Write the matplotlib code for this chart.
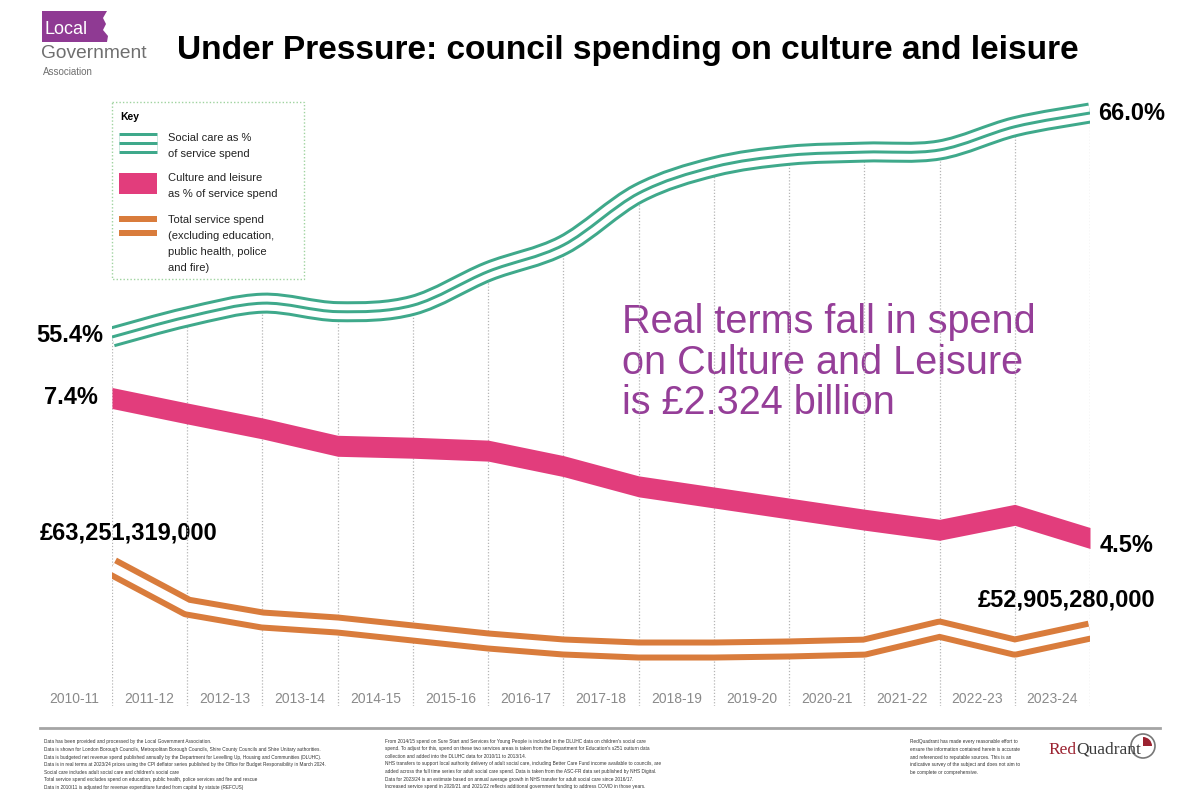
import numpy as np
import matplotlib.pyplot as plt
from matplotlib.patches import Rectangle, Circle, Wedge, Polygon, PathPatch
from matplotlib.path import Path

# Data
years = ["2010-11", "2011-12", "2012-13", "2013-14", "2014-15", "2015-16", "2016-17",
         "2017-18", "2018-19", "2019-20", "2020-21", "2021-22", "2022-23", "2023-24"]
social_care_pct = [55.4, 56.35, 57.0, 56.6, 56.9, 58.5, 59.75, 62.2, 63.45, 64.0, 64.15, 64.25, 65.35, 66.0]
culture_pct = [7.4, 7.08, 6.77, 6.41, 6.37, 6.31, 5.99, 5.57, 5.34, 5.11, 4.88, 4.67, 4.98, 4.5]
total_spend_bn = [63.251319, 56.78, 54.68, 53.87, 52.58, 51.29, 50.32, 49.83, 49.83, 50.0, 50.3,
                  53.2, 50.3, 52.90528]

headline = ["Real terms fall in spend", "on Culture and Leisure", "is £2.324 billion"]

foot_left = [
    "Data has been provided and processed by the Local Government Association.",
    "Data is shown for London Borough Councils, Metropolitan Borough Councils, Shire County Councils and Shire Unitary authorities.",
    "Data is budgeted net revenue spend published annually by the Department for Levelling Up, Housing and Communities (DLUHC).",
    "Data is in real terms at 2023/24 prices using the CPI deflator series published by the Office for Budget Responsibility in March 2024.",
    "Social care includes adult social care and children's social care",
    "Total service spend excludes spend on education, public health, police services and fire and rescue",
    "Data in 2010/11 is adjusted for revenue expenditure funded from capital by statute (REFCUS)",
]
foot_mid = [
    "From 2014/15 spend on Sure Start and Services for Young People is included in the DLUHC data on children's social care",
    "spend. To adjust for this, spend on these two services areas is taken from the Department for Education's s251 outturn data",
    "collection and added into the DLUHC data for 2010/11 to 2013/14.",
    "NHS transfers to support local authority delivery of adult social care, including Better Care Fund income available to councils, are",
    "added across the full time series for adult social care spend. Data is taken from the ASC-FR data set published by NHS Digital.",
    "Data for 2023/24 is an estimate based on annual average growth in NHS transfer for adult social care since 2016/17.",
    "Increased service spend in 2020/21 and 2021/22 reflects additional government funding to address COVID in those years.",
]
foot_right = [
    "RedQuadrant has made every reasonable effort to",
    "ensure the information contained herein is accurate",
    "and referenced to reputable sources. This is an",
    "indicative survey of the subject and does not aim to",
    "be complete or comprehensive.",
]

GREEN = "#3fa98b"
PINK = "#e23d7c"
ORANGE = "#d97c3c"
PURPLE = "#953e98"
GREY = "#8a8a8a"
PX = 0.72  # points per pixel at dpi 100

plt.rcParams['font.family'] = ['Liberation Sans', 'DejaVu Sans']

W, H = 1200, 800
fig = plt.figure(figsize=(12, 8), dpi=100)

# overlay in pixel coordinates for decorations
ov = fig.add_axes([0, 0, 1, 1])
ov.set_xlim(0, W)
ov.set_ylim(H, 0)
ov.axis('off')

# data axes share one box: x 112..1090 px, y 90..706 px
TOP, BOT = 90, 706
pos = [112 / W, 1 - BOT / H, 978 / W, (BOT - TOP) / H]


def ylims(p1, v1, p2, v2):
    k = (v1 - v2) / (p2 - p1)
    return v1 - (BOT - p1) * k, v1 + (p1 - TOP) * k


def data_axes(lims):
    a = fig.add_axes(pos)
    a.set_xlim(0, len(years) - 1)
    a.set_ylim(*lims)
    a.axis('off')
    a.patch.set_alpha(0)
    return a


def smooth_path(xs, ys):
    # Catmull-Rom curve through the points, as cubic Bezier segments
    pts = np.column_stack([xs, ys]).astype(float)
    ext = np.vstack([pts[0], pts, pts[-1]])
    verts, codes = [pts[0]], [Path.MOVETO]
    for i in range(len(pts) - 1):
        p0, p1, p2, p3 = ext[i], ext[i + 1], ext[i + 2], ext[i + 3]
        verts += [p1 + (p2 - p0) / 6, p2 - (p3 - p1) / 6, p2]
        codes += [Path.CURVE4] * 3
    return Path(verts, codes)


def stroke(ax, path, color, lw_px, z):
    ax.add_patch(PathPatch(path, fill=False, ec=color, lw=lw_px * PX, capstyle='butt',
                           joinstyle='round', zorder=z))


x = np.arange(len(years))
ax_s = data_axes(ylims(337, 55.4, 113, 66.0))
ax_c = data_axes(ylims(398, 7.4, 538, 4.5))
ax_t = data_axes(ylims(567, 63.251319, 631, 52.90528))

# vertical dotted guides from social care line down to the axis
ybot = ax_s.get_ylim()[0]
ax_s.vlines(x, ybot, social_care_pct, colors="#b5b5b5", linestyles=(0, (1, 1.5)), lw=0.9, zorder=1)

# social care: three parallel lines
sp = smooth_path(x, social_care_pct)
stroke(ax_s, sp, GREEN, 21, 3)
stroke(ax_s, sp, "white", 15, 4)
stroke(ax_s, sp, GREEN, 3, 5)

# culture and leisure band (constant vertical thickness)
c_lo, c_hi = ax_c.get_ylim()
half = 10.5 * (c_hi - c_lo) / (BOT - TOP)
cp = np.array(culture_pct)
ax_c.fill_between(x, cp - half, cp + half, color=PINK, lw=0)

# total service spend: two parallel lines
kw = dict(solid_joinstyle='round', solid_capstyle='butt')
ax_t.plot(x, total_spend_bn, color=ORANGE, lw=21 * PX, zorder=3, **kw)
ax_t.plot(x, total_spend_bn, color="white", lw=9 * PX, zorder=4, **kw)

# x labels between guides
ylab = ax_s.transData.inverted().transform((0, H - 699))[1]
for i, lab in enumerate(years):
    ax_s.text(i - 0.5, ylab, lab, ha='center', va='center', fontsize=10, color=GREY, clip_on=False)

# value labels
vl = dict(fontsize=17, fontweight='bold', color='black', va='center')
ov.text(103, 335, f"{social_care_pct[0]:.1f}%", ha='right', **vl)
ov.text(98, 397, f"{culture_pct[0]:.1f}%", ha='right', **vl)
ov.text(40, 533, f"£{total_spend_bn[0] * 1e9:,.0f}", ha='left', **vl)
ov.text(1098, 114, f"{social_care_pct[-1]:.1f}%", ha='left', **vl)
ov.text(1100, 545, f"{culture_pct[-1]:.1f}%", ha='left', **vl)
ov.text(1155, 600, f"£{total_spend_bn[-1] * 1e9:,.0f}", ha='right', **vl)

# headline
for j, line in enumerate(headline):
    ov.text(622, 322 + j * 40.5, line, fontsize=28.5, color=PURPLE, ha='left', va='center')

# title
ov.text(628, 50, "Under Pressure: council spending on culture and leisure", fontsize=24.1,
        fontweight='bold', ha='center', va='center', color='black')

# LGA logo
ov.add_patch(Rectangle((42, 11), 56, 31, color="#8f3a93", lw=0))
ov.add_patch(Polygon([(98, 11), (107, 11), (103, 18), (106, 24), (103, 30), (108, 36), (107, 42), (98, 42)],
                     closed=True, color="#8f3a93", lw=0))
ov.text(44, 30, "Local", color='white', fontsize=13, va='center', ha='left')
ov.text(41, 53, "Government", color="#6f6f6f", fontsize=13.8, va='center', ha='left')
ov.text(43, 72, "Association", color="#6f6f6f", fontsize=7, va='center', ha='left')

# key box
ov.add_patch(Rectangle((112, 102), 192, 177, fill=False, ec="#9fd39f", lw=1, ls=(0, (1, 1.5))))
ov.text(120, 117, "Key", fontsize=7.5, fontweight='bold', va='center')
ov.plot([119, 157], [143, 143], color=GREEN, lw=21 * PX, solid_capstyle='butt')
ov.plot([119, 157], [143, 143], color='white', lw=15 * PX, solid_capstyle='butt')
ov.plot([119, 157], [143, 143], color=GREEN, lw=3 * PX, solid_capstyle='butt')
ov.add_patch(Rectangle((119, 173), 38, 21, color=PINK, lw=0))
ov.plot([119, 157], [226, 226], color=ORANGE, lw=20 * PX, solid_capstyle='butt')
ov.plot([119, 157], [226, 226], color='white', lw=8 * PX, solid_capstyle='butt')
key_txt = [(138, "Social care as %"), (154, "of service spend"),
           (178, "Culture and leisure"), (194, "as % of service spend"),
           (220, "Total service spend"), (236, "(excluding education,"),
           (252, "public health, police"), (268, "and fire)")]
for yy, s in key_txt:
    ov.text(168, yy, s, fontsize=8, va='center', color='#222222')

# footer rule
ov.plot([40, 1160], [728, 728], color="#a5a5a5", lw=2)

for j, s in enumerate(foot_left):
    ov.text(44, 742 + j * 7.6, s, fontsize=3.4, va='center', color='#333333')
for j, s in enumerate(foot_mid):
    ov.text(385, 741 + j * 7.6, s, fontsize=3.4, va='center', color='#333333')
for j, s in enumerate(foot_right):
    ov.text(910, 742 + j * 7.6, s, fontsize=3.4, va='center', color='#333333')

# RedQuadrant logo
ov.text(1048, 750, "Red", fontsize=12.5, family='Liberation Serif', color="#9b2230", va='center')
ov.text(1076, 750, "Quadrant", fontsize=12.5, family='Liberation Serif', color="#3a3a3a", va='center')
ov.add_patch(Circle((1143, 746), 12, fill=False, ec="#777777", lw=1.2))
ov.add_patch(Wedge((1143, 746), 9, 270, 360, color="#9b2230", lw=0))

fig.savefig("out.png", dpi=100, facecolor='white')
